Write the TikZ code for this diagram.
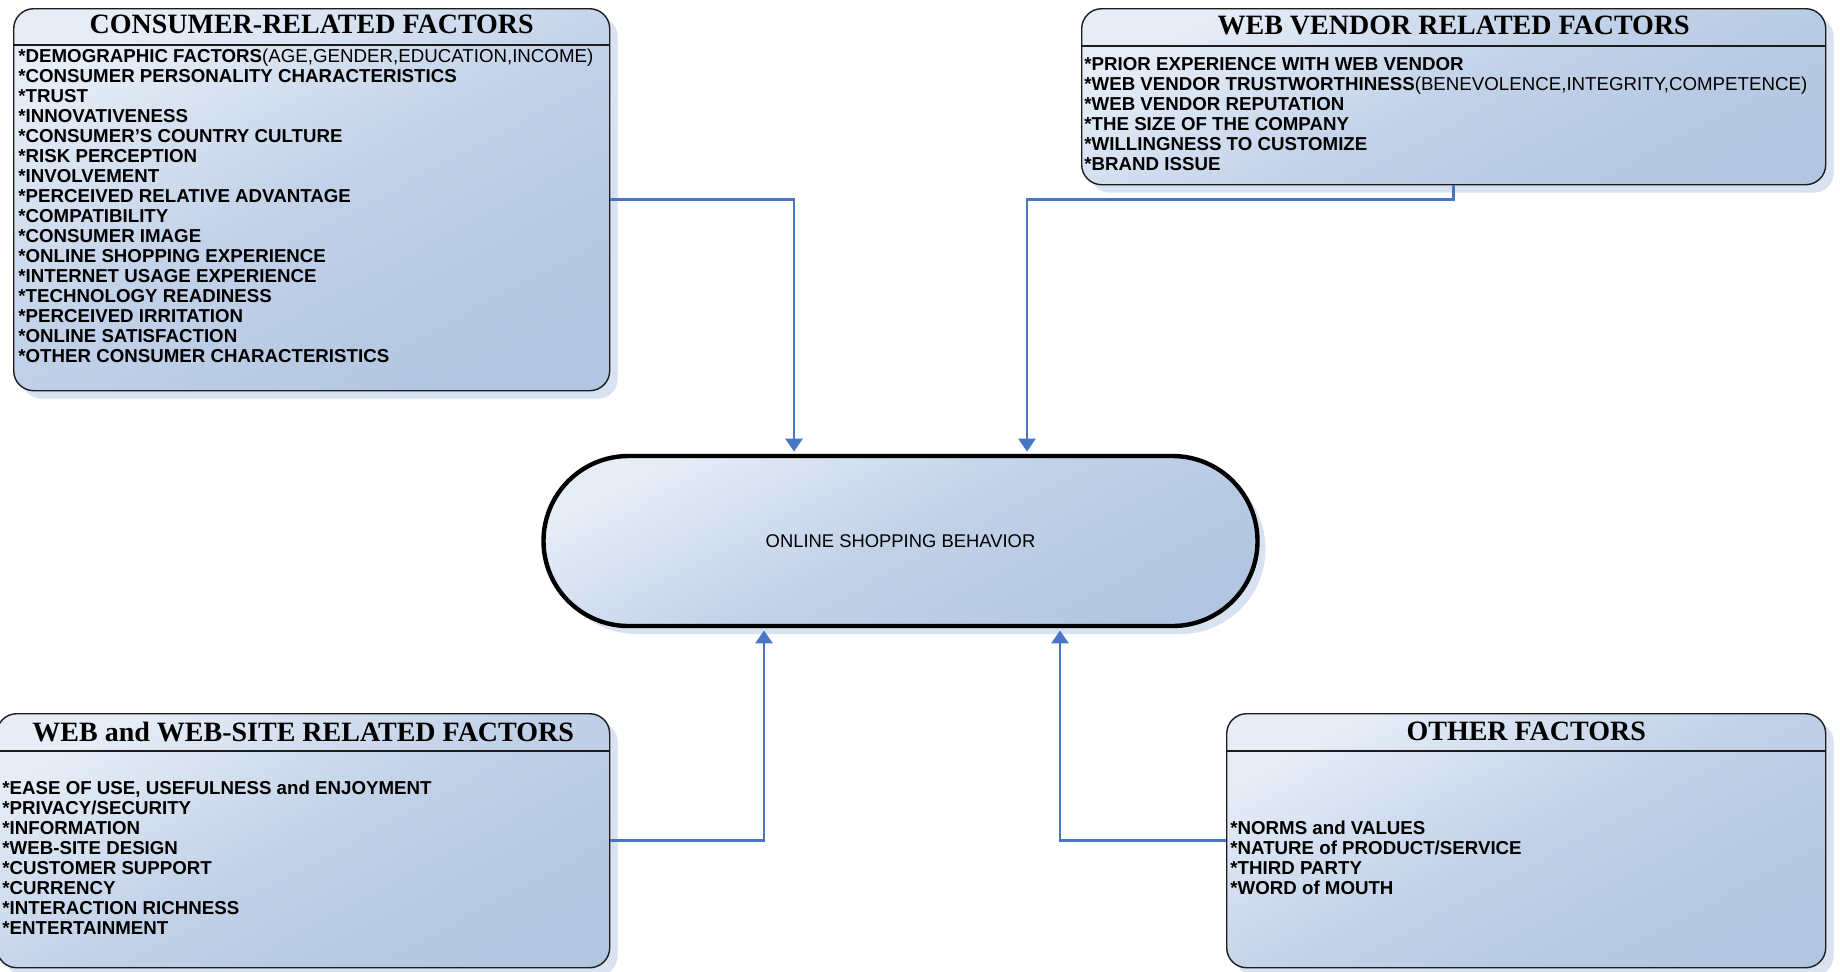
\documentclass[tikz,border=0pt]{standalone}
\usepackage{fontspec}
\setmainfont{Liberation Sans}
\newfontfamily\headfont{Liberation Serif}
\usetikzlibrary{arrows.meta, positioning, shadows}
\definecolor{boxlight}{HTML}{E6EDF7}
\definecolor{boxmid}{HTML}{C1D1E8}
\definecolor{boxdark}{HTML}{B3C6E1}
\definecolor{shadowblue}{HTML}{D8E2F1}
\definecolor{linkblue}{HTML}{4876C4}
\definecolor{rimgray}{HTML}{1C1C1C}
\tikzset{
  factorbox/.style={rectangle, rounded corners=10pt, draw=rimgray, line width=0.7pt,
                    top color=boxlight, bottom color=boxdark, middle color=boxmid, shading angle=28,
                    drop shadow={shadow xshift=4pt, shadow yshift=-4pt, fill=shadowblue, opacity=1},
                    anchor=north west, inner sep=0pt},
  hdrline/.style={draw=rimgray, line width=0.7pt},
  boxtitle/.style={font=\headfont\bfseries\fontsize{14}{16}\selectfont, inner sep=0pt},
  itemlist/.style={font=\fontsize{9.35}{10}\selectfont\bfseries, align=left, inner sep=0pt},
  behav/.style={rectangle, rounded corners=42.5pt, draw=black, line width=2.2pt,
                minimum width=357pt, minimum height=85pt,
                top color=boxlight, bottom color=boxdark, middle color=boxmid, shading angle=28,
                drop shadow={shadow xshift=4pt, shadow yshift=-4pt, fill=shadowblue, opacity=1},
                font=\fontsize{9.2}{11}\selectfont},
  link/.style={-{Triangle[length=6.5pt, width=8.5pt]}, draw=linkblue, line width=1.4pt},
}

\begin{document}
\begin{tikzpicture}[x=0.5pt, y=-0.5pt]
  \useasboundingbox (0,0) rectangle (1840,971);

  \node[factorbox, minimum width=298pt, minimum height=191pt] (cons) at (13,8) {};
  \draw[hdrline] ([yshift=-18.5pt]cons.north west) -- ([yshift=-18.5pt]cons.north east);
  \node[boxtitle, below=3.2pt of cons.north] (consT) {CONSUMER-RELATED FACTORS};
  \node[itemlist, below right=20.5pt and 2.5pt of cons.north west] (consL)
    {*DEMOGRAPHIC FACTORS\textmd{(AGE,GENDER,EDUCATION,INCOME)}\\
     *CONSUMER PERSONALITY CHARACTERISTICS\\
     *TRUST\\
     *INNOVATIVENESS\\
     *CONSUMER’S COUNTRY CULTURE\\
     *RISK PERCEPTION\\
     *INVOLVEMENT\\
     *PERCEIVED RELATIVE ADVANTAGE\\
     *COMPATIBILITY\\
     *CONSUMER IMAGE\\
     *ONLINE SHOPPING EXPERIENCE\\
     *INTERNET USAGE EXPERIENCE\\
     *TECHNOLOGY READINESS\\
     *PERCEIVED IRRITATION\\
     *ONLINE SATISFACTION\\
     *OTHER CONSUMER CHARACTERISTICS};

  \node[factorbox, minimum width=372pt, minimum height=88pt] (vend) at (1081,8) {};
  \draw[hdrline] ([yshift=-19pt]vend.north west) -- ([yshift=-19pt]vend.north east);
  \node[boxtitle, below=3.6pt of vend.north] (vendT) {WEB VENDOR RELATED FACTORS};
  \node[itemlist, below right=24.5pt and 1.5pt of vend.north west] (vendL)
    {*PRIOR EXPERIENCE WITH WEB VENDOR\\
     *WEB VENDOR TRUSTWORTHINESS\textmd{(BENEVOLENCE,INTEGRITY,COMPETENCE)}\\
     *WEB VENDOR REPUTATION\\
     *THE SIZE OF THE COMPANY\\
     *WILLINGNESS TO CUSTOMIZE\\
     *BRAND ISSUE};

  \node[factorbox, minimum width=306.5pt, minimum height=127pt] (web) at (-4,713) {};
  \draw[hdrline] ([yshift=-19pt]web.north west) -- ([yshift=-19pt]web.north east);
  \node[boxtitle, below=4.2pt of web.north] (webT) {WEB and WEB-SITE RELATED FACTORS};
  \node[itemlist, below right=34pt and 3pt of web.north west] (webL)
    {*EASE OF USE, USEFULNESS and ENJOYMENT\\
     *PRIVACY/SECURITY\\
     *INFORMATION\\
     *WEB-SITE DESIGN\\
     *CUSTOMER SUPPORT\\
     *CURRENCY\\
     *INTERACTION RICHNESS\\
     *ENTERTAINMENT};

  \node[factorbox, minimum width=299.5pt, minimum height=127pt] (oth) at (1226,713) {};
  \draw[hdrline] ([yshift=-19pt]oth.north west) -- ([yshift=-19pt]oth.north east);
  \node[boxtitle, below=4.2pt of oth.north] (othT) {OTHER FACTORS};
  \node[itemlist, below right=54pt and 2pt of oth.north west] (othL)
    {*NORMS and VALUES\\
     *NATURE of PRODUCT/SERVICE\\
     *THIRD PARTY\\
     *WORD of MOUTH};

  \node[behav] (osb) at (900.5,541) {ONLINE SHOPPING BEHAVIOR};
  \coordinate (tin1) at ([xshift=-53.25pt, yshift=1.1pt]osb.north);
  \coordinate (tin2) at ([xshift=63.25pt, yshift=1.1pt]osb.north);
  \coordinate (bin1) at ([xshift=-68.25pt, yshift=-1.1pt]osb.south);
  \coordinate (bin2) at ([xshift=79.75pt, yshift=-1.1pt]osb.south);

  \draw[link] (cons.east) -| (tin1);
  \draw[link] (vend.south) -- (vend.south |- cons.east) -| (tin2);
  \draw[link] (web.east) -| (bin1);
  \draw[link] (oth.west) -| (bin2);
\end{tikzpicture}
\end{document}
